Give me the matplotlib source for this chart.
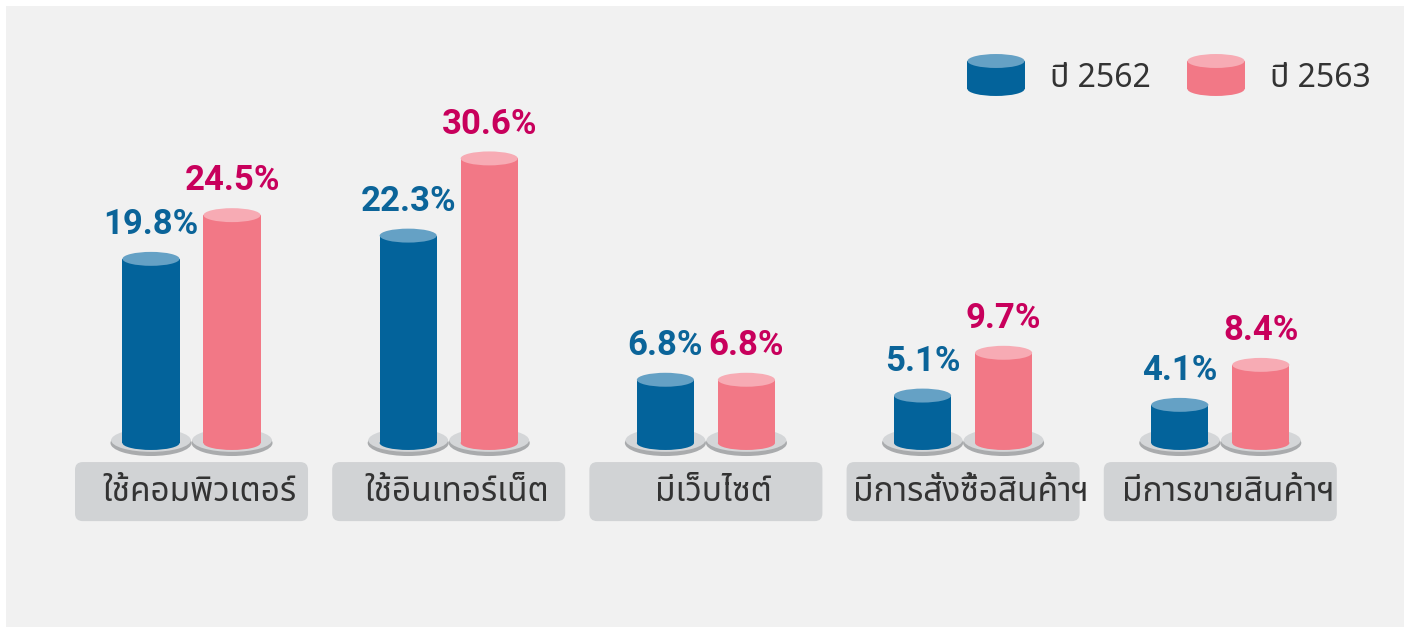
import numpy as np
import matplotlib
matplotlib.use("Agg")
import matplotlib.pyplot as plt
from matplotlib.patches import Ellipse, Rectangle, FancyBboxPatch
from matplotlib import font_manager
from fontTools.ttLib import TTFont

# ข้อมูล
categories = ["ใช้คอมพิวเตอร์", "ใช้อินเทอร์เน็ต", "มีเว็บไซต์", "มีการสั่งซื้อสินค้าฯ", "มีการขายสินค้าฯ"]
series_names = ["ปี 2562", "ปี 2563"]
values_2562 = [19.8, 22.3, 6.8, 5.1, 4.1]
values_2563 = [24.5, 30.6, 6.8, 9.7, 8.4]


def find_thai_font():
    """หาฟอนต์ที่มีอักษรไทย"""
    found = []
    for f in font_manager.fontManager.ttflist:
        try:
            tt = TTFont(f.fname, fontNumber=0, lazy=True)
            cmap = tt.getBestCmap()
            if cmap and 0x0E01 in cmap and 0x0E49 in cmap:
                found.append(f.name)
        except Exception:
            continue
    for pref in ["Noto Sans Thai", "Noto Sans Thai Looped", "Sarabun", "Tahoma", "Loma", "Garuda"]:
        if pref in found:
            return pref
    return found[0] if found else None


thai_font = find_thai_font()
text_family = [thai_font, "DejaVu Sans"] if thai_font else ["DejaVu Sans"]

BLUE = "#03639b"
BLUE_TOP = "#65a1c5"
PINK = "#f27886"
PINK_TOP = "#f7abb4"
BLUE_TXT = "#0b6499"
PINK_TXT = "#c8005c"
BG = "#f1f1f1"

fig = plt.figure(figsize=(14.1, 6.27), dpi=100, facecolor="white")
fig.patches.append(Rectangle((6 / 1410, 0), 1398 / 1410, 621 / 627,
                             transform=fig.transFigure, facecolor=BG,
                             edgecolor="none", zorder=-5))

ax = fig.add_axes([0, 0, 1, 1])
ax.set_facecolor("none")
ax.set_xlim(-0.7446, 4.7376)
ax.set_ylim(-(627 - 443) / 9.3, 443 / 9.3)
ax.axis("off")

x = np.arange(len(categories))
off = 0.1575
bw = 0.222
eh = 1.5  # ความสูงวงรีหัวกระบอก (หน่วยข้อมูล)


def cylinder(cx, y0, y1, body, top, z=3):
    ax.add_patch(Ellipse((cx, y0), bw, eh, facecolor=body, edgecolor="none", zorder=z))
    ax.add_patch(Rectangle((cx - bw / 2, y0), bw, y1 - y0, facecolor=body,
                           edgecolor="none", zorder=z))
    ax.add_patch(Ellipse((cx, y1), bw, eh, facecolor=top, edgecolor="none", zorder=z + 0.1))


for i, cat in enumerate(categories):
    for j, (vals, body, top, tc) in enumerate([(values_2562, BLUE, BLUE_TOP, BLUE_TXT),
                                                (values_2563, PINK, PINK_TOP, PINK_TXT)]):
        cx = x[i] + (-off if j == 0 else off)
        # ฐานรอง
        ax.add_patch(Ellipse((cx, 0.0), 0.315, 2.8, facecolor="#a9abad",
                             edgecolor="none", zorder=1))
        ax.add_patch(Ellipse((cx, 0.3), 0.31, 2.5, facecolor="#d4d6d8",
                             edgecolor="none", zorder=1.5))
        cylinder(cx, 0, vals[i], body, top)
        ax.text(cx, vals[i] + 1.9, f"{vals[i]:.1f}%", ha="center", va="bottom",
                fontsize=25, fontweight="bold", color=tc, family="Roboto", zorder=5)

    # กล่องชื่อหมวด
    ax.add_patch(FancyBboxPatch((x[i] - 0.453, -8.4), 0.906, 6.35,
                                boxstyle="round,pad=0,rounding_size=0.03",
                                mutation_aspect=27.6, facecolor="#d1d3d5",
                                edgecolor="none", zorder=2))
    ax.text(x[i] + 0.03, -5.3, cat, ha="center", va="center", fontsize=24,
            color="#333333", family=text_family, zorder=5)

# คำอธิบาย
for cx_px, name, body, top in [(996, series_names[0], BLUE, BLUE_TOP),
                               (1216, series_names[1], PINK, PINK_TOP)]:
    cx = (cx_px - 191.5) / 257.2
    cylinder(cx, (443 - 89) / 9.3, (443 - 61) / 9.3, body, top)
    ax.text((cx_px + 54 - 191.5) / 257.2, (443 - 78) / 9.3, name, ha="left", va="center",
            fontsize=23, color="#333333", family=text_family, zorder=5)

fig.savefig("out.png", dpi=100, facecolor="white")
